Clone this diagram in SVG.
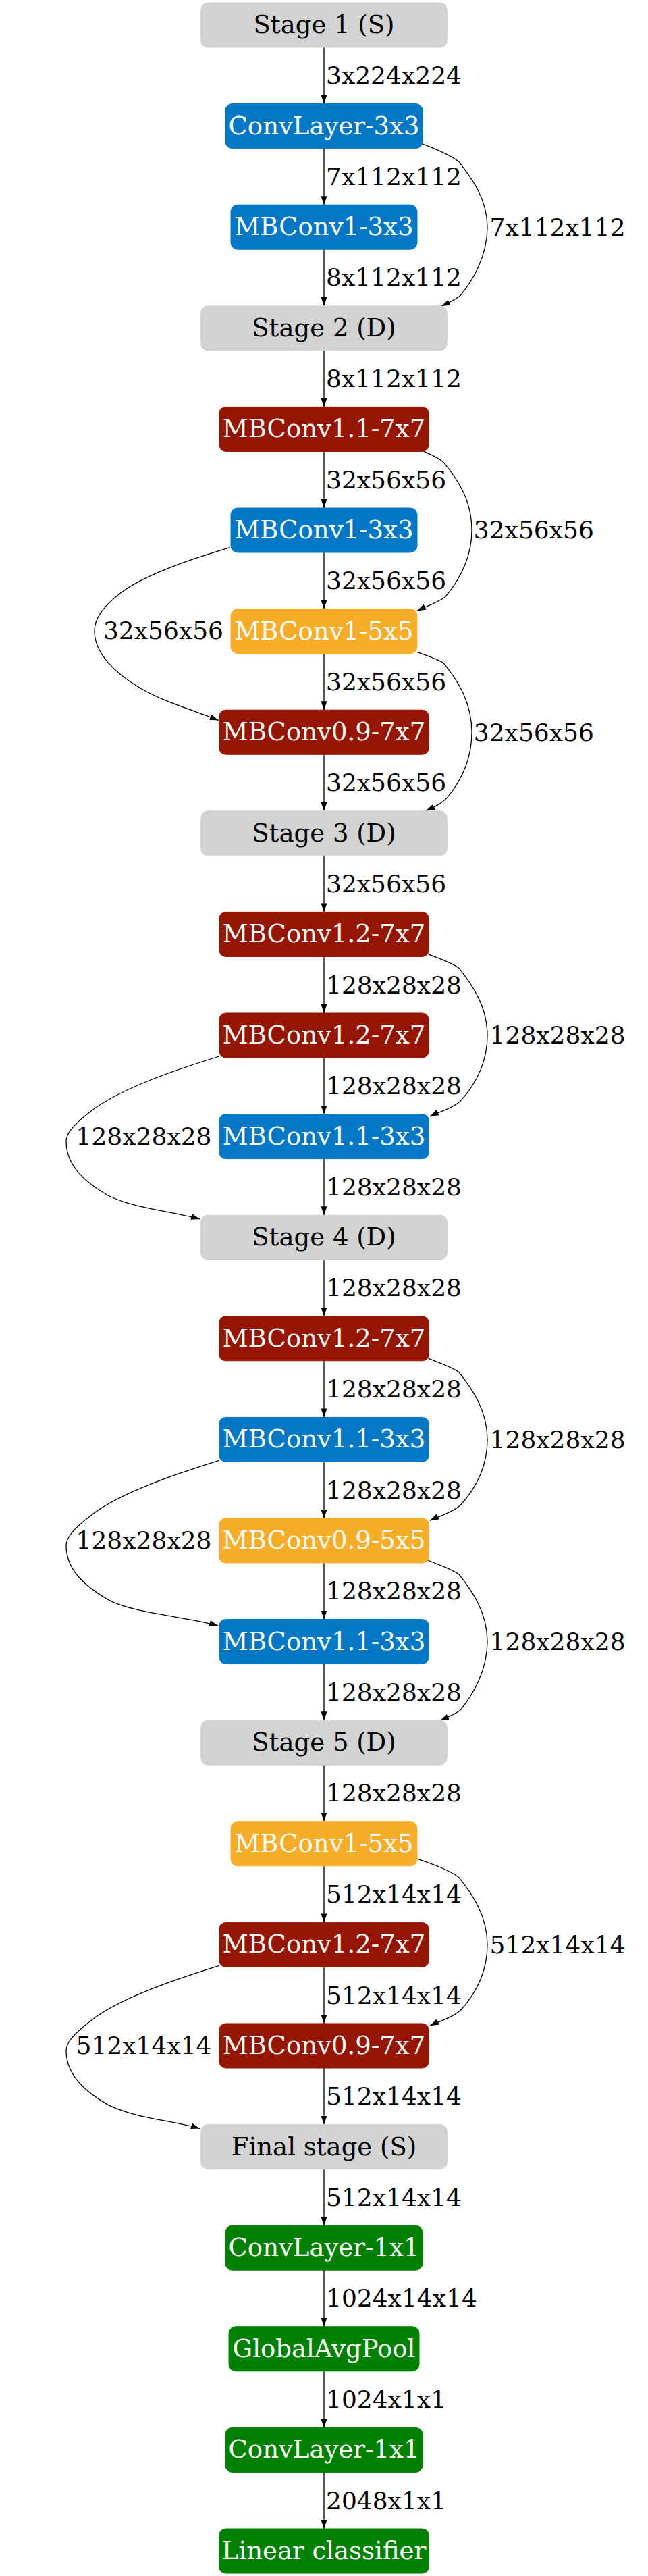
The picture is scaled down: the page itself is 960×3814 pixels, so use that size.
<svg xmlns="http://www.w3.org/2000/svg" width="960" height="3814" viewBox="0 0 960 3814">
<style>
.node text{font-family:"DejaVu Serif","Liberation Serif",serif;font-size:37px;text-anchor:middle;fill:#ffffff}
.node.gray text{fill:#000000}
.gray rect{fill:#d3d3d3;stroke:#d3d3d3}
.blue rect{fill:#0277c4;stroke:#0277c4}
.red rect{fill:#961500;stroke:#961500}
.orange rect{fill:#f7ad2a;stroke:#f7ad2a}
.green rect{fill:#008000;stroke:#008000}
.edge path{fill:none;stroke:#000000;stroke-width:1.3;marker-end:url(#ah)}
.edge text{font-family:"DejaVu Serif","Liberation Serif",serif;font-size:36px;fill:#000000}
.edge text.l{text-anchor:end}
</style>
<defs>
<marker id="ah" markerWidth="14" markerHeight="10" refX="13" refY="4.5" orient="auto" markerUnits="userSpaceOnUse">
<path d="M0,0 L13,4.5 L0,9 z" fill="#000000"/>
</marker>
</defs>
<rect x="0" y="0" width="960" height="3814" fill="#ffffff"/>
<g id="edges">
<g class="edge" transform="translate(0,4)"><path d="M480,66 V149.6"/><text x="483" y="120.3">3x224x224</text></g>
<g class="edge" transform="translate(0,153.6)"><path d="M480,66 V149.6"/><text x="483" y="120.3">7x112x112</text></g>
<g class="edge" transform="translate(0,153.6)"><path d="M625,59 C646,67 668,76 680,86 C697,108 722,140 722,182.6 C722,226 700,262 682,284 C676,289 664,295 654,299.5"/><text x="725.6" y="195">7x112x112</text></g>
<g class="edge" transform="translate(0,303.2)"><path d="M480,66 V149.6"/><text x="483" y="120.3">8x112x112</text></g>
<g class="edge" transform="translate(0,452.8)"><path d="M480,66 V149.6"/><text x="483" y="120.3">8x112x112</text></g>
<g class="edge" transform="translate(0,602.4)"><path d="M480,66 V149.6"/><text x="483" y="120.3">32x56x56</text></g>
<g class="edge" transform="translate(0,602.4)"><path d="M628,66 C640,71 651,76 658,83 C680,110 699,140 699,182.6 C699,225 680,257 660,281 C650,289 632,295 618,302"/><text x="701.8" y="195">32x56x56</text></g>
<g class="edge" transform="translate(0,752)"><path d="M480,66 V149.6"/><text x="483" y="120.3">32x56x56</text></g>
<g class="edge" transform="translate(0,752)"><path d="M341,58.6 C300,71 220,95 180,125 C150,148 140,165 140,182.6 C140,215 170,245 210,268 C240,286 285,299 323.8,314.5"/><text class="l" x="331" y="194">32x56x56</text></g>
<g class="edge" transform="translate(0,901.6)"><path d="M480,66 V149.6"/><text x="483" y="120.3">32x56x56</text></g>
<g class="edge" transform="translate(0,901.6)"><path d="M618,64 C632,69 648,74 657,80 C680,108 699,140 699,182.6 C699,225 682,256 662,280 C653,289 642,294 631,299"/><text x="701.8" y="195">32x56x56</text></g>
<g class="edge" transform="translate(0,1051.2)"><path d="M480,66 V149.6"/><text x="483" y="120.3">32x56x56</text></g>
<g class="edge" transform="translate(0,1200.8)"><path d="M480,66 V149.6"/><text x="483" y="120.3">32x56x56</text></g>
<g class="edge" transform="translate(0,1350.4)"><path d="M480,66 V149.6"/><text x="483" y="120.3">128x28x28</text></g>
<g class="edge" transform="translate(0,1350.4)"><path d="M634,62 C650,69 668,74 680,83 C700,108 722,140 722,182.6 C722,225 702,258 682,280 C670,291 650,296 637,302.5"/><text x="725.6" y="195">128x28x28</text></g>
<g class="edge" transform="translate(0,1500)"><path d="M480,66 V149.6"/><text x="483" y="120.3">128x28x28</text></g>
<g class="edge" transform="translate(0,1500)"><path d="M324.5,64 C270,81 180,110 135,145 C105,168 98,180 98,190 C98,225 125,250 160,270 C200,290 255,293 296,305"/><text class="l" x="313.5" y="195">128x28x28</text></g>
<g class="edge" transform="translate(0,1649.6)"><path d="M480,66 V149.6"/><text x="483" y="120.3">128x28x28</text></g>
<g class="edge" transform="translate(0,1799.2)"><path d="M480,66 V149.6"/><text x="483" y="120.3">128x28x28</text></g>
<g class="edge" transform="translate(0,1948.8)"><path d="M480,66 V149.6"/><text x="483" y="120.3">128x28x28</text></g>
<g class="edge" transform="translate(0,1948.8)"><path d="M634,62 C650,69 668,74 680,83 C700,108 722,140 722,182.6 C722,225 702,258 682,280 C670,291 650,296 637,302.5"/><text x="725.6" y="195">128x28x28</text></g>
<g class="edge" transform="translate(0,2098.4)"><path d="M480,66 V149.6"/><text x="483" y="120.3">128x28x28</text></g>
<g class="edge" transform="translate(0,2098.4)"><path d="M324.5,64 C270,81 180,110 135,145 C105,168 98,180 98,190 C98,225 125,250 160,270 C195,290 278,295.5 323,308.5"/><text class="l" x="313.5" y="195">128x28x28</text></g>
<g class="edge" transform="translate(0,2248)"><path d="M480,66 V149.6"/><text x="483" y="120.3">128x28x28</text></g>
<g class="edge" transform="translate(0,2248)"><path d="M634,62 C650,69 668,74 680,83 C700,108 722,140 722,182.6 C722,226 700,262 682,284 C676,289 662,295 652,299.5"/><text x="725.6" y="195">128x28x28</text></g>
<g class="edge" transform="translate(0,2397.6)"><path d="M480,66 V149.6"/><text x="483" y="120.3">128x28x28</text></g>
<g class="edge" transform="translate(0,2547.2)"><path d="M480,66 V149.6"/><text x="483" y="120.3">128x28x28</text></g>
<g class="edge" transform="translate(0,2696.8)"><path d="M480,66 V149.6"/><text x="483" y="120.3">512x14x14</text></g>
<g class="edge" transform="translate(0,2696.8)"><path d="M617,55 C640,63 666,72 680,83 C700,108 722,140 722,182.6 C722,225 702,258 682,280 C670,291 650,296 637,302.5"/><text x="725.6" y="195">512x14x14</text></g>
<g class="edge" transform="translate(0,2846.4)"><path d="M480,66 V149.6"/><text x="483" y="120.3">512x14x14</text></g>
<g class="edge" transform="translate(0,2846.4)"><path d="M324.5,64 C270,81 180,110 135,145 C105,168 98,180 98,190 C98,225 125,250 160,270 C200,290 255,293 296,305"/><text class="l" x="313.5" y="195">512x14x14</text></g>
<g class="edge" transform="translate(0,2996)"><path d="M480,66 V149.6"/><text x="483" y="120.3">512x14x14</text></g>
<g class="edge" transform="translate(0,3145.6)"><path d="M480,66 V149.6"/><text x="483" y="120.3">512x14x14</text></g>
<g class="edge" transform="translate(0,3295.2)"><path d="M480,66 V149.6"/><text x="483" y="120.3">1024x14x14</text></g>
<g class="edge" transform="translate(0,3444.8)"><path d="M480,66 V149.6"/><text x="483" y="120.3">1024x1x1</text></g>
<g class="edge" transform="translate(0,3594.4)"><path d="M480,66 V149.6"/><text x="483" y="120.3">2048x1x1</text></g>
</g>
<g id="n0" class="node gray" transform="translate(0,4)"><rect x="297.7" y="0" width="364.6" height="66" rx="10"/><text x="480" y="45">Stage 1 (S)</text></g>
<g id="n1" class="node blue" transform="translate(0,153.6)"><rect x="334" y="0" width="292" height="66" rx="10"/><text x="480" y="45">ConvLayer-3x3</text></g>
<g id="n2" class="node blue" transform="translate(0,303.2)"><rect x="342" y="0" width="276" height="66" rx="10"/><text x="480" y="45">MBConv1-3x3</text></g>
<g id="n3" class="node gray" transform="translate(0,452.8)"><rect x="297.7" y="0" width="364.6" height="66" rx="10"/><text x="480" y="45">Stage 2 (D)</text></g>
<g id="n4" class="node red" transform="translate(0,602.4)"><rect x="324.5" y="0" width="311" height="66" rx="10"/><text x="480" y="45">MBConv1.1-7x7</text></g>
<g id="n5" class="node blue" transform="translate(0,752)"><rect x="342" y="0" width="276" height="66" rx="10"/><text x="480" y="45">MBConv1-3x3</text></g>
<g id="n6" class="node orange" transform="translate(0,901.6)"><rect x="342" y="0" width="276" height="66" rx="10"/><text x="480" y="45">MBConv1-5x5</text></g>
<g id="n7" class="node red" transform="translate(0,1051.2)"><rect x="324.5" y="0" width="311" height="66" rx="10"/><text x="480" y="45">MBConv0.9-7x7</text></g>
<g id="n8" class="node gray" transform="translate(0,1200.8)"><rect x="297.7" y="0" width="364.6" height="66" rx="10"/><text x="480" y="45">Stage 3 (D)</text></g>
<g id="n9" class="node red" transform="translate(0,1350.4)"><rect x="324.5" y="0" width="311" height="66" rx="10"/><text x="480" y="45">MBConv1.2-7x7</text></g>
<g id="n10" class="node red" transform="translate(0,1500)"><rect x="324.5" y="0" width="311" height="66" rx="10"/><text x="480" y="45">MBConv1.2-7x7</text></g>
<g id="n11" class="node blue" transform="translate(0,1649.6)"><rect x="324.5" y="0" width="311" height="66" rx="10"/><text x="480" y="45">MBConv1.1-3x3</text></g>
<g id="n12" class="node gray" transform="translate(0,1799.2)"><rect x="297.7" y="0" width="364.6" height="66" rx="10"/><text x="480" y="45">Stage 4 (D)</text></g>
<g id="n13" class="node red" transform="translate(0,1948.8)"><rect x="324.5" y="0" width="311" height="66" rx="10"/><text x="480" y="45">MBConv1.2-7x7</text></g>
<g id="n14" class="node blue" transform="translate(0,2098.4)"><rect x="324.5" y="0" width="311" height="66" rx="10"/><text x="480" y="45">MBConv1.1-3x3</text></g>
<g id="n15" class="node orange" transform="translate(0,2248)"><rect x="324.5" y="0" width="311" height="66" rx="10"/><text x="480" y="45">MBConv0.9-5x5</text></g>
<g id="n16" class="node blue" transform="translate(0,2397.6)"><rect x="324.5" y="0" width="311" height="66" rx="10"/><text x="480" y="45">MBConv1.1-3x3</text></g>
<g id="n17" class="node gray" transform="translate(0,2547.2)"><rect x="297.7" y="0" width="364.6" height="66" rx="10"/><text x="480" y="45">Stage 5 (D)</text></g>
<g id="n18" class="node orange" transform="translate(0,2696.8)"><rect x="342" y="0" width="276" height="66" rx="10"/><text x="480" y="45">MBConv1-5x5</text></g>
<g id="n19" class="node red" transform="translate(0,2846.4)"><rect x="324.5" y="0" width="311" height="66" rx="10"/><text x="480" y="45">MBConv1.2-7x7</text></g>
<g id="n20" class="node red" transform="translate(0,2996)"><rect x="324.5" y="0" width="311" height="66" rx="10"/><text x="480" y="45">MBConv0.9-7x7</text></g>
<g id="n21" class="node gray" transform="translate(0,3145.6)"><rect x="297.7" y="0" width="364.6" height="66" rx="10"/><text x="480" y="45">Final stage (S)</text></g>
<g id="n22" class="node green" transform="translate(0,3295.2)"><rect x="334" y="0" width="292" height="66" rx="10"/><text x="480" y="45">ConvLayer-1x1</text></g>
<g id="n23" class="node green" transform="translate(0,3444.8)"><rect x="339" y="0" width="282" height="66" rx="10"/><text x="480" y="45">GlobalAvgPool</text></g>
<g id="n24" class="node green" transform="translate(0,3594.4)"><rect x="334" y="0" width="292" height="66" rx="10"/><text x="480" y="45">ConvLayer-1x1</text></g>
<g id="n25" class="node green" transform="translate(0,3744)"><rect x="324.5" y="0" width="311" height="66" rx="10"/><text x="480" y="45">Linear classifier</text></g>
</svg>
